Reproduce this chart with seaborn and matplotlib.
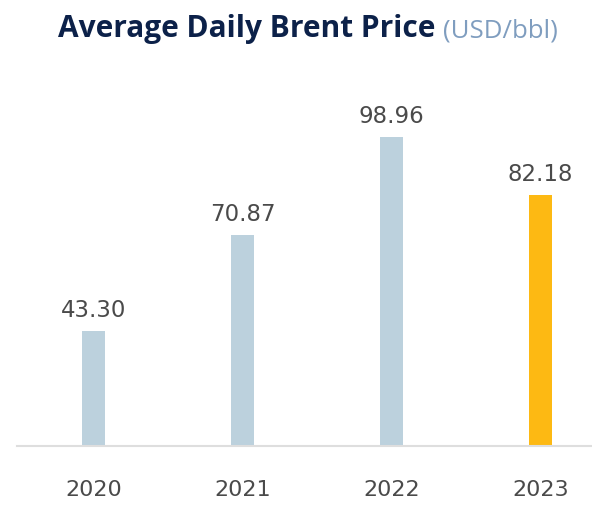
import matplotlib
matplotlib.use("Agg")
import matplotlib.pyplot as plt
import seaborn as sns
import pandas as pd

years = ["2020", "2021", "2022", "2023"]
prices = [43.30, 70.87, 98.96, 82.18]
labels = ["43.30", "70.87", "98.96", "82.18"]
bar_colors = ["#bcd1dd", "#bcd1dd", "#bcd1dd", "#fdb913"]
title_main = "Average Daily Brent Price"
title_unit = "(USD/bbl)"

sns.set_theme(style="white")
plt.rcParams["font.family"] = ["DejaVu Sans"]

W, H = 592, 506
fig = plt.figure(figsize=(W / 100, H / 100), dpi=100)
ax_left, ax_right = 17, 592
ax_bottom_px, ax_top_px = 447, 100
ax = fig.add_axes([ax_left / W, (H - ax_bottom_px) / H,
                   (ax_right - ax_left) / W, (ax_bottom_px - ax_top_px) / H])

df = pd.DataFrame({"year": years, "price": prices})
sns.barplot(data=df, x="year", y="price", hue="year", palette=bar_colors,
            legend=False, width=0.154, ax=ax, saturation=1, linewidth=0)

ymin = 10.3
ax.set_ylim(ymin, ymin + (ax_bottom_px - ax_top_px) / 3.486)
ax.set_xlim(-0.513, 3.346)

for i, (v, t) in enumerate(zip(prices, labels)):
    ax.annotate(t, (i, v), xytext=(0, 10.8), textcoords="offset points",
                ha="center", va="baseline", fontsize=16.5, color="#4a4a4a")

for s in ["left", "right", "top"]:
    ax.spines[s].set_visible(False)
ax.spines["bottom"].set_color("#dedede")
ax.spines["bottom"].set_linewidth(1.5)
ax.set_yticks([])
ax.set_xlabel("")
ax.set_ylabel("")
ax.tick_params(axis="x", length=0, pad=24, labelsize=16, labelcolor="#4a4a4a")

t1 = fig.text(58 / W, 1 - 37 / H, title_main, fontsize=21.5, fontweight="bold",
              color="#0c2149", family=["Open Sans"], ha="left", va="baseline")
fig.canvas.draw()
r = fig.canvas.get_renderer()
bb = t1.get_window_extent(r)
fig.text((bb.x1 + 8) / W, 1 - 37 / H, title_unit, fontsize=18.5, color="#7f9dbf",
         family=["Open Sans"], ha="left", va="baseline")

fig.savefig("out.png", dpi=100)
